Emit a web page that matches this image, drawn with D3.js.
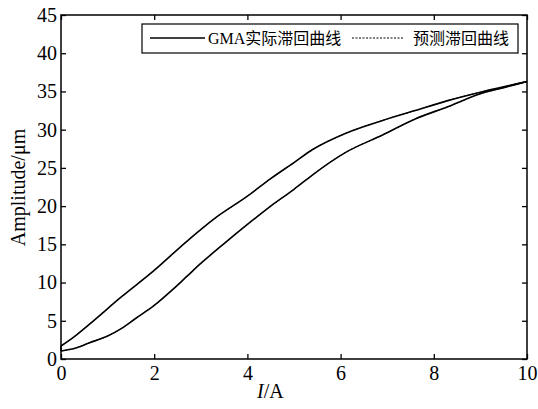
<!DOCTYPE html>
<html>
<head>
<meta charset="utf-8">
<script src="https://cdn.jsdelivr.net/npm/d3@7"></script>
<style>
  body { margin: 0; background: #fff; }
  text { font-family: "Liberation Serif", "Times New Roman", serif; }
  .cjk { font-family: "Noto Sans CJK SC", sans-serif; }
</style>
</head>
<body>
<div id="chart"></div>
<script>
/* CONSTANTS AND GLOBALS */
const width = 538,
  height = 409,
  margin = {top: 15, bottom: 50, left: 61, right: 11};

// rising branch (lower curve), current in A, amplitude in um
const riseI =   [0, 0.3, 0.6, 1.0, 1.3, 1.6, 2.0, 2.4, 2.7, 3.0, 3.5, 4.0, 4.5, 5.0, 5.4, 6.1, 6.9, 7.6, 8.3, 9.0, 9.5, 10];
const riseAmp = [1.05, 1.4, 2.1, 3.0, 4.0, 5.3, 7.0, 9.1, 10.8, 12.5, 15.1, 17.6, 20.0, 22.2, 24.1, 27.0, 29.3, 31.4, 33.0, 34.7, 35.5, 36.3];

// falling branch (upper curve)
const fallI =   [10, 9.5, 9.0, 8.3, 7.6, 6.9, 6.1, 5.4, 5.0, 4.5, 4.0, 3.3, 2.7, 2.0, 1.3, 0.6, 0.3, 0];
const fallAmp = [36.3, 35.6, 34.9, 33.8, 32.5, 31.2, 29.5, 27.4, 25.7, 23.6, 21.3, 18.4, 15.4, 11.6, 8.15, 4.5, 3.0, 1.7];

const xTicks = [0, 2, 4, 6, 8, 10];
const yTicks = [0, 5, 10, 15, 20, 25, 30, 35, 40, 45];
const legendLabels = ["GMA实际滞回曲线", "预测滞回曲线"];

const rise = riseI.map((d, i) => ({I: d, A: riseAmp[i]}));
const fall = fallI.map((d, i) => ({I: d, A: fallAmp[i]})).reverse();

const svg = d3.select("#chart")
  .append("svg")
  .attr("width", width)
  .attr("height", height);

const xScale = d3.scaleLinear()
  .domain([0, 10])
  .range([margin.left, width - margin.right]);

const yScale = d3.scaleLinear()
  .domain([0, 45])
  .range([height - margin.bottom, margin.top]);

const lineGen = d3.line()
  .curve(d3.curveMonotoneX)
  .x(d => xScale(d.I))
  .y(d => yScale(d.A));

// measured loop
svg.selectAll(".measured")
  .data([rise, fall])
  .join("path")
  .attr("class", "measured")
  .attr("d", lineGen)
  .attr("fill", "none")
  .attr("stroke", "#000")
  .attr("stroke-width", 1.6);

// predicted loop, lies on top of the measured one
svg.selectAll(".predicted")
  .data([rise, fall])
  .join("path")
  .attr("class", "predicted")
  .attr("d", lineGen)
  .attr("fill", "none")
  .attr("stroke", "#000")
  .attr("stroke-width", 1)
  .attr("stroke-dasharray", "2,2");

// closing segment at I = 0
svg.append("line")
  .attr("x1", xScale(0)).attr("x2", xScale(0))
  .attr("y1", yScale(riseAmp[0])).attr("y2", yScale(fallAmp[fallAmp.length - 1]))
  .attr("stroke", "#000").attr("stroke-width", 1.6);

// AXES (ticks inward, mirrored on top/right)
const tickLen = 5;
const axisStyle = g => {
  g.select(".domain").remove();
  g.selectAll(".tick line").attr("stroke", "#000").attr("stroke-width", 1.3);
  g.selectAll(".tick text").attr("fill", "#000").style("font-size", "20px")
    .style("font-family", "'Liberation Serif', serif");
};

svg.append("g")
  .attr("transform", `translate(0, ${height - margin.bottom})`)
  .call(d3.axisBottom(xScale).tickValues(xTicks).tickSize(-tickLen).tickPadding(7))
  .call(axisStyle);

svg.append("g")
  .attr("transform", `translate(0, ${margin.top})`)
  .call(d3.axisTop(xScale).tickValues(xTicks).tickSize(-tickLen).tickFormat(""))
  .call(axisStyle);

svg.append("g")
  .attr("transform", `translate(${margin.left}, 0)`)
  .call(d3.axisLeft(yScale).tickValues(yTicks).tickSize(-tickLen).tickPadding(4))
  .call(axisStyle);

svg.append("g")
  .attr("transform", `translate(${width - margin.right}, 0)`)
  .call(d3.axisRight(yScale).tickValues(yTicks).tickSize(-tickLen).tickFormat(""))
  .call(axisStyle);

// frame
svg.append("rect")
  .attr("x", margin.left)
  .attr("y", margin.top)
  .attr("width", width - margin.left - margin.right)
  .attr("height", height - margin.top - margin.bottom)
  .attr("fill", "none")
  .attr("stroke", "#000")
  .attr("stroke-width", 1.5);

// LABELS
const xLabel = svg.append("text")
  .attr("x", 257)
  .attr("y", 398)
  .attr("fill", "#000")
  .style("font-size", "20px");
xLabel.append("tspan").attr("font-style", "italic").text("I");
xLabel.append("tspan").text("/A");

svg.append("text")
  .attr("transform", `translate(25, ${(127 + 248) / 2}) rotate(-90)`)
  .attr("text-anchor", "middle")
  .attr("fill", "#000")
  .style("font-size", "20px")
  .text("Amplitude/μm");

// LEGEND
const legend = svg.append("g");
legend.append("rect")
  .attr("x", 142)
  .attr("y", 24)
  .attr("width", 376)
  .attr("height", 29)
  .attr("fill", "#fff")
  .attr("stroke", "#000")
  .attr("stroke-width", 1.2);

legend.append("line")
  .attr("x1", 150).attr("x2", 205)
  .attr("y1", 38).attr("y2", 38)
  .attr("stroke", "#000").attr("stroke-width", 1.4);

const t1 = legend.append("text")
  .attr("x", 208).attr("y", 44)
  .attr("fill", "#000")
  .style("font-size", "16px");
t1.append("tspan").text("GMA");
t1.append("tspan").attr("class", "cjk").text(legendLabels[0].slice(3));

legend.append("line")
  .attr("x1", 352).attr("x2", 404)
  .attr("y1", 38).attr("y2", 38)
  .attr("stroke", "#000").attr("stroke-width", 1.2)
  .attr("stroke-dasharray", "2,1.5");

legend.append("text")
  .attr("class", "cjk")
  .attr("x", 413).attr("y", 44)
  .attr("fill", "#000")
  .style("font-size", "16px")
  .text(legendLabels[1]);
</script>
</body>
</html>
